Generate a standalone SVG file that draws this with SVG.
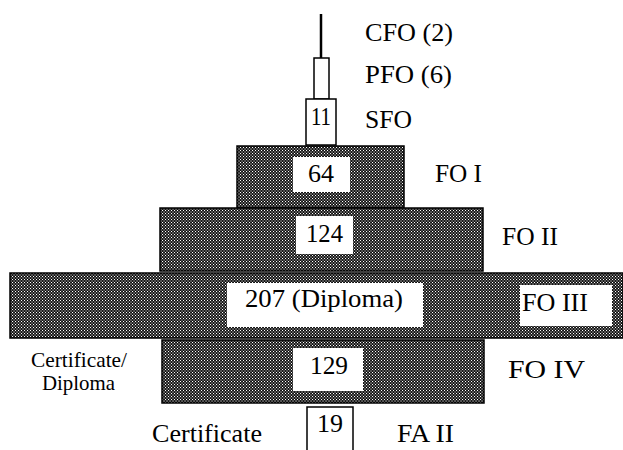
<svg xmlns="http://www.w3.org/2000/svg" width="623" height="450" viewBox="0 0 623 450">
<defs>
<pattern id="dither" width="3" height="3" patternUnits="userSpaceOnUse">
<rect width="3" height="3" fill="#111"/>
<rect x="0" y="0" width="1.05" height="1.05" fill="#ffffff"/>
<rect x="1.5" y="1.5" width="1.05" height="1.05" fill="#ffffff"/>
</pattern>
</defs>
<style>
.band{fill:url(#dither);stroke:#000;stroke-width:1.5}
.box{fill:#fff;stroke:#000;stroke-width:1.5}
.wbox{fill:#fff;stroke:none}
text{font-family:"Liberation Serif","Times New Roman",serif;fill:#000;font-size:25px}
.sm{font-size:21px}
.mid{text-anchor:middle}
</style>
<rect width="623" height="450" fill="#fff"/>
<g id="connectors">
<line x1="321" y1="14" x2="321" y2="58" stroke="#000" stroke-width="2.5"/>
</g>
<g id="cfo">
<text x="365" y="41" textLength="88" lengthAdjust="spacingAndGlyphs">CFO (2)</text>
</g>
<g id="pfo">
<rect class="box" x="314" y="58" width="15" height="41"/>
<text x="365" y="83" textLength="87" lengthAdjust="spacingAndGlyphs">PFO (6)</text>
</g>
<g id="sfo">
<rect class="box" x="306" y="99" width="30" height="46"/>
<text x="321" y="125" class="mid" textLength="20" lengthAdjust="spacingAndGlyphs">11</text>
<text x="365" y="128" textLength="47" lengthAdjust="spacingAndGlyphs">SFO</text>
</g>
<g id="fo1">
<rect class="band" x="237" y="146" width="167" height="62"/>
<rect class="wbox" x="293" y="157" width="57" height="35"/>
<text x="321" y="182" class="mid" textLength="26" lengthAdjust="spacingAndGlyphs">64</text>
<text x="435" y="182" textLength="47" lengthAdjust="spacingAndGlyphs">FO I</text>
</g>
<g id="fo2">
<rect class="band" x="160" y="208" width="323" height="63"/>
<rect class="wbox" x="296" y="216" width="57" height="38"/>
<text x="324.5" y="242" class="mid" textLength="37" lengthAdjust="spacingAndGlyphs">124</text>
<text x="502" y="245" textLength="56" lengthAdjust="spacingAndGlyphs">FO II</text>
</g>
<g id="fo3">
<rect class="band" x="10" y="273" width="613" height="65"/>
<rect class="wbox" x="227" y="283" width="196" height="44"/>
<text x="245" y="307" textLength="158" lengthAdjust="spacingAndGlyphs">207 (Diploma)</text>
<rect class="wbox" x="520" y="285" width="92" height="41"/>
<text x="522" y="311" textLength="66" lengthAdjust="spacingAndGlyphs">FO III</text>
</g>
<g id="fo4">
<rect class="band" x="162" y="340" width="322" height="63"/>
<rect class="wbox" x="293" y="348" width="70" height="43"/>
<text x="310" y="374" textLength="38" lengthAdjust="spacingAndGlyphs">129</text>
<text x="508" y="378" textLength="77" lengthAdjust="spacingAndGlyphs">FO IV</text>
<text x="31" y="367" class="sm" textLength="96" lengthAdjust="spacingAndGlyphs">Certificate/</text>
<text x="42" y="390" class="sm" textLength="73" lengthAdjust="spacingAndGlyphs">Diploma</text>
</g>
<g id="fa2">
<rect class="box" x="307" y="407" width="46" height="50"/>
<text x="330" y="432" class="mid" textLength="26" lengthAdjust="spacingAndGlyphs">19</text>
<text x="152" y="442" textLength="110" lengthAdjust="spacingAndGlyphs">Certificate</text>
<text x="397" y="442" textLength="57" lengthAdjust="spacingAndGlyphs">FA II</text>
</g>
</svg>
